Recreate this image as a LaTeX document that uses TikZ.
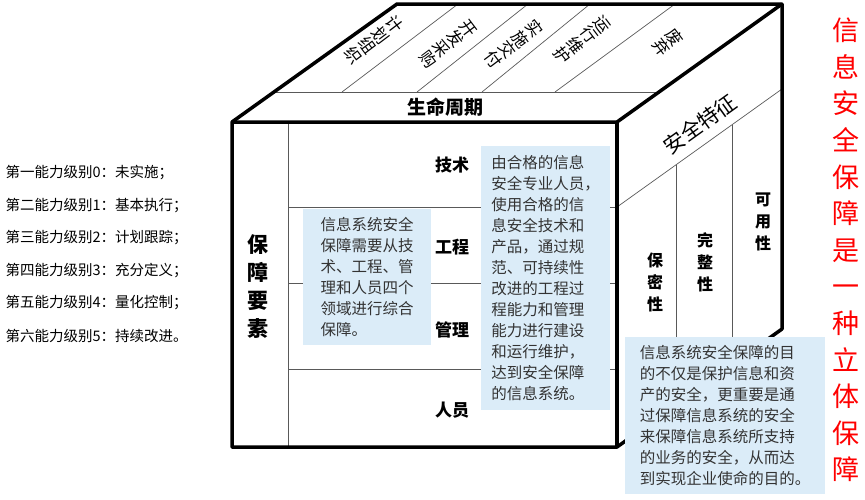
\documentclass[tikz,border=0pt]{standalone}
\usepackage{fontspec}
\newfontfamily\cjk{Noto Sans CJK SC}
\definecolor{note-blue}{RGB}{219,236,248}
\definecolor{line-gray}{gray}{0.35}
\tikzset{
  edge/.style={line width=3.5pt, line join=round},
  grid/.style={line-gray, line width=0.7pt},
  note/.style={fill=note-blue, inner sep=4pt, align=left, anchor=north west,
    font=\cjk\fontsize{15.5}{21}\selectfont, text=black!80},
  label/.style={font=\cjk\bfseries\fontsize{17}{20}\selectfont},
  stage/.style={font=\cjk\fontsize{16.5}{17}\selectfont, align=center, rotate=-53},
  level/.style={font=\cjk\fontsize{14.5}{17}\selectfont, anchor=west}
}
\begin{document}
\begin{tikzpicture}[x=1pt,y=-1pt]
  \useasboundingbox (0,0) rectangle (865,499);
  % cube corners
  \coordinate (fl) at (232,122);  \coordinate (fr) at (617,122);
  \coordinate (bl) at (232,447);  \coordinate (br) at (617,447);
  \coordinate (tl) at (397,4);    \coordinate (tr) at (782,4);
  \coordinate (rr) at (782,329);
  % top face
  \draw[grid] (275,92) -- (660,92);                                 % band line
  \foreach \a/\b in {342/458,417/528,482/590,555/675}{               % stage lines
    \draw[grid] (\a,92) -- (\b,4);
  }
  \node[font=\cjk\bfseries\fontsize{19}{20}\selectfont] (life) at (445,107) {生命周期};
  \node[stage] (s1) at (374,40) {计\\划\\组\\织};
  \node[stage] (s2) at (448,44) {开\\发\\采\\购};
  \node[stage] (s3) at (514,44) {实\\施\\交\\付};
  \node[stage] (s4) at (582,40) {运\\行\\维\\护};
  \node[stage] (s5) at (668,42) {废\\弃};
  % front face
  \draw[grid] (288,122) -- (288,447);
  \foreach \y in {207,283,369}{
    \draw[grid] (288,\y) -- (617,\y);
  }
  \node[label, font=\cjk\bfseries\fontsize{21}{28}\selectfont, align=center] (ele) at (258,287) {保\\障\\要\\素};
  \node[label] (tech) at (452,165) {技术};
  \node[label] (eng)  at (452,247) {工程};
  \node[label] (mgmt) at (452,330) {管理};
  \node[label] (ppl)  at (452,410) {人员};
  % right face
  \draw[grid] (617,207) -- (782,89);
  \draw[grid] (676,165) -- (676,405);
  \draw[grid] (732,125) -- (732,365);
  \node[font=\cjk\fontsize{21}{22}\selectfont, rotate=35.6, inner sep=1pt] (feat) at (700,124) {安全特征};
  \node[label, align=center, font=\cjk\bfseries\fontsize{16}{22}\selectfont] (conf) at (655,282) {保\\密\\性};
  \node[label, align=center, font=\cjk\bfseries\fontsize{16}{22}\selectfont] (integ) at (705,262) {完\\整\\性};
  \node[label, align=center, font=\cjk\bfseries\fontsize{16}{22}\selectfont] (avail) at (763,222) {可\\用\\性};
  % outline
  \draw[edge] (bl) -- (fl) -- (tl) -- (tr) -- (rr) -- (br) -- cycle;
  \draw[edge] (fl) -- (fr) -- (tr);
  \draw[edge] (fr) -- (br);
  % notes
  \node[note, minimum width=128pt, minimum height=136pt] (n1) at (303,209)
    {信息系统安全\\保障需要从技\\术、工程、管\\理和人员四个\\领域进行综合\\保障。};
  \node[note, minimum width=129pt, minimum height=264pt] (n2) at (481,146)
    {由合格的信息\\安全专业人员，\\使用合格的信\\息安全技术和\\产品，通过规\\范、可持续性\\改进的工程过\\程能力和管理\\能力进行建设\\和运行维护，\\达到安全保障\\的信息系统。};
  \node[note, minimum width=200pt, minimum height=157pt] (n3) at (625,337)
    {信息系统安全保障的目\\的不仅是保护信息和资\\产的安全，更重要是通\\过保障信息系统的安全\\来保障信息系统所支持\\的业务的安全，从而达\\到实现企业使命的目的。};
  % levels
  \foreach \t [count=\i] in {第一能力级别0：未实施；,第二能力级别1：基本执行；,第三能力级别2：计划跟踪；,第四能力级别3：充分定义；,第五能力级别4：量化控制；,第六能力级别5：持续改进。}{
    \node[level] (lv\i) at (2,{140+32.6*\i}) {\t};
  }
  % red claim
  \node[font=\cjk\fontsize{27}{36.6}\selectfont, text=red, align=center] (claim) at (846,250)
    {信\\息\\安\\全\\保\\障\\是\\一\\种\\立\\体\\保\\障};
\end{tikzpicture}
\end{document}
